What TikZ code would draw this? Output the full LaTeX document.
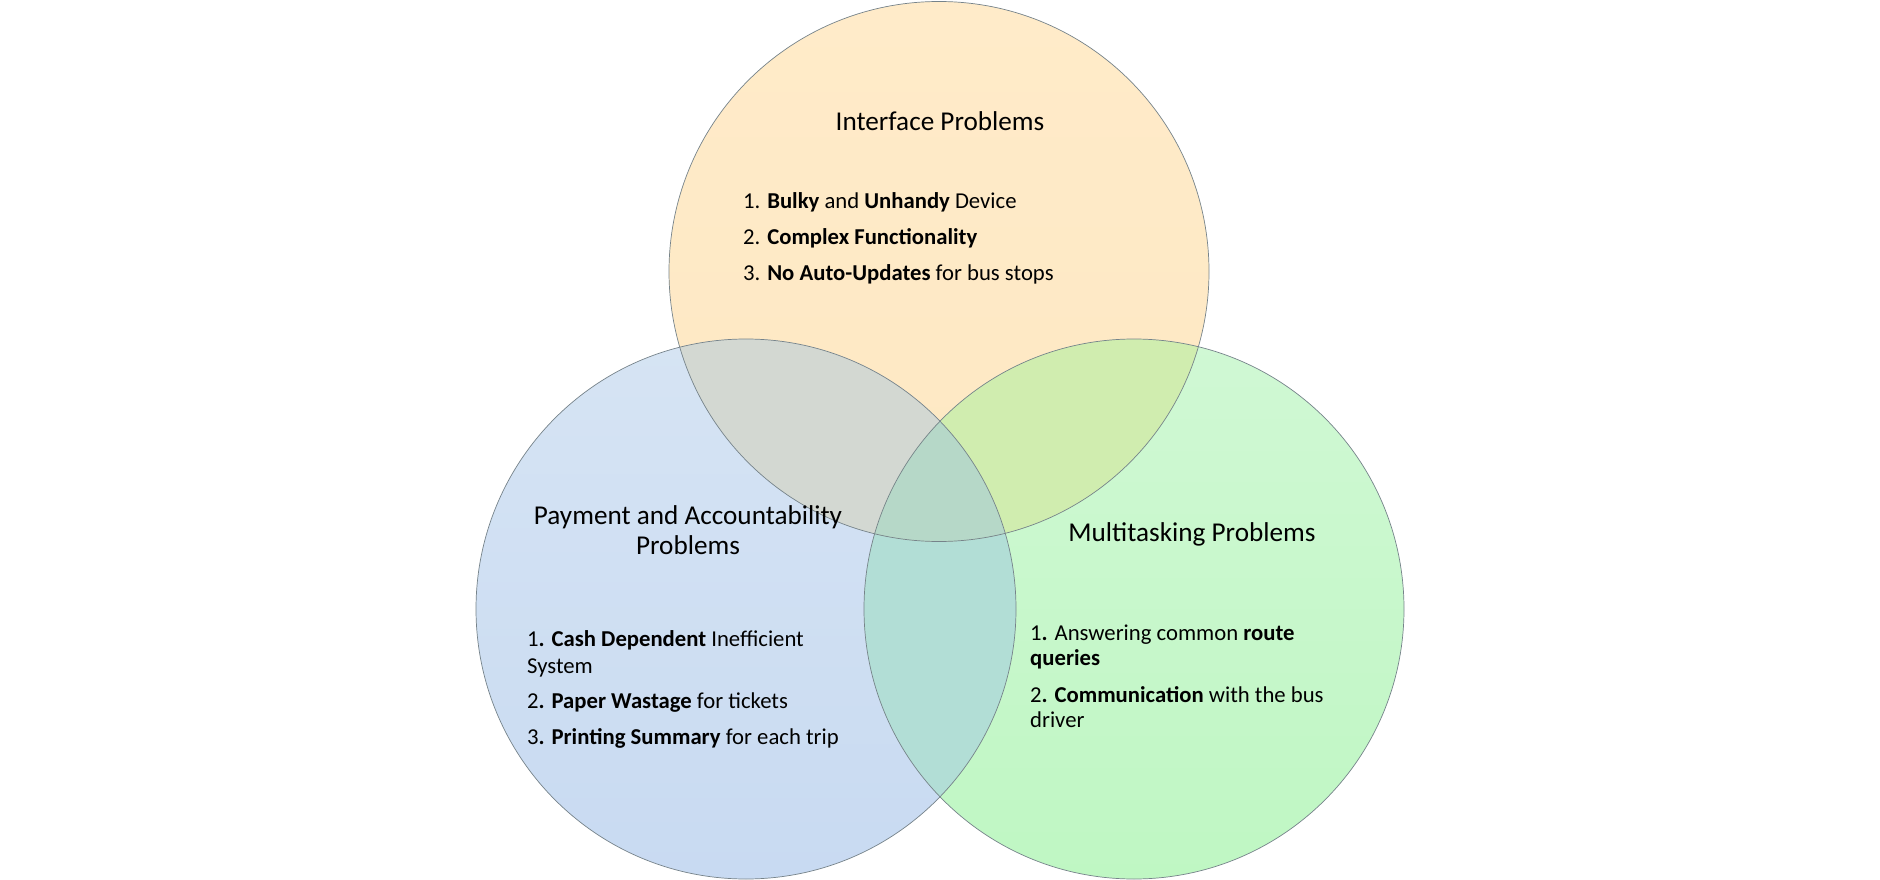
\documentclass[tikz,border=0pt]{standalone}
\usepackage{fontspec}
\setmainfont{Carlito}
\definecolor{topcol}{HTML}{FFEBC9}
\definecolor{topcolb}{HTML}{FDE8C3}
\definecolor{lefttop}{HTML}{D6E4F3}
\definecolor{leftbot}{HTML}{C8DAF2}
\definecolor{righttop}{HTML}{D0F8D4}
\definecolor{rightbot}{HTML}{BFF7C3}
\definecolor{tlcol}{HTML}{D3D8D2}
\definecolor{trcol}{HTML}{D0EDAF}
\definecolor{lrcol}{HTML}{B2DED6}
\definecolor{ctrcol}{HTML}{B6D8C8}
\definecolor{edgecol}{HTML}{76838A}
\tikzset{
  titlestyle/.style={font=\fontsize{27.2}{32}\selectfont, anchor=base, inner sep=0pt},
  bodystyle/.style={font=\fontsize{22.7}{27}\selectfont, anchor=base west, inner sep=0pt},
  ring/.style={draw=edgecol, line width=0.7pt}
}
\begin{document}
\begin{tikzpicture}[x=1pt,y=-1pt]
\useasboundingbox (0,0) rectangle (1880,880);
\fill[white] (0,0) rectangle (1880,880);
\coordinate (T) at (939,271.5);
\coordinate (L) at (746,609);
\coordinate (R) at (1134,609);
% base fills
\shade[top color=topcol, bottom color=topcolb] (T) circle[radius=270pt];
\shade[top color=lefttop, bottom color=leftbot] (L) circle[radius=270pt];
\shade[top color=righttop, bottom color=rightbot] (R) circle[radius=270pt];
% left-right overlap
\begin{scope}
  \clip (L) circle[radius=270pt];
  \fill[lrcol] (R) circle[radius=270pt];
\end{scope}
% overlaps with top
\begin{scope}
  \clip (T) circle[radius=270pt];
  \fill[tlcol] (L) circle[radius=270pt];
  \fill[trcol] (R) circle[radius=270pt];
  \clip (L) circle[radius=270pt];
  \fill[ctrcol] (R) circle[radius=270pt];
\end{scope}
% outlines
\draw[ring] (T) circle[radius=270pt];
\draw[ring] (L) circle[radius=270pt];
\draw[ring] (R) circle[radius=270pt];
% top texts
\node[titlestyle] (ttitle) at (940,131) {Interface Problems};
\node[bodystyle] (t1) at (743,208.5) {1. \textbf{Bulky} and \textbf{Unhandy} Device};
\node[bodystyle] (t2) at (743,244.5) {2. \textbf{Complex Functionality}};
\node[bodystyle] (t3) at (743,280.5) {3. \textbf{No Auto-Updates} for bus stops};
% left texts
\node[titlestyle] (ltitle1) at (688,524) {Payment and Accountability};
\node[titlestyle] (ltitle2) at (688,554) {Problems};
\node[bodystyle] (l1) at (527,646) {1\textbf{. Cash Dependent} Inefficient};
\node[bodystyle] (l1b) at (527,673) {System};
\node[bodystyle] (l2) at (527,708) {2\textbf{. Paper Wastage} for tickets};
\node[bodystyle] (l3) at (527,744) {3\textbf{. Printing Summary} for each trip};
% right texts
\node[titlestyle] (rtitle) at (1192,541) {Multitasking Problems};
\node[bodystyle] (r1) at (1030,640) {1\textbf{.} Answering common \textbf{route}};
\node[bodystyle] (r1b) at (1030,665) {\textbf{queries}};
\node[bodystyle] (r2) at (1030,702) {2\textbf{. Communication} with the bus};
\node[bodystyle] (r2b) at (1030,727) {driver};
\end{tikzpicture}
\end{document}
